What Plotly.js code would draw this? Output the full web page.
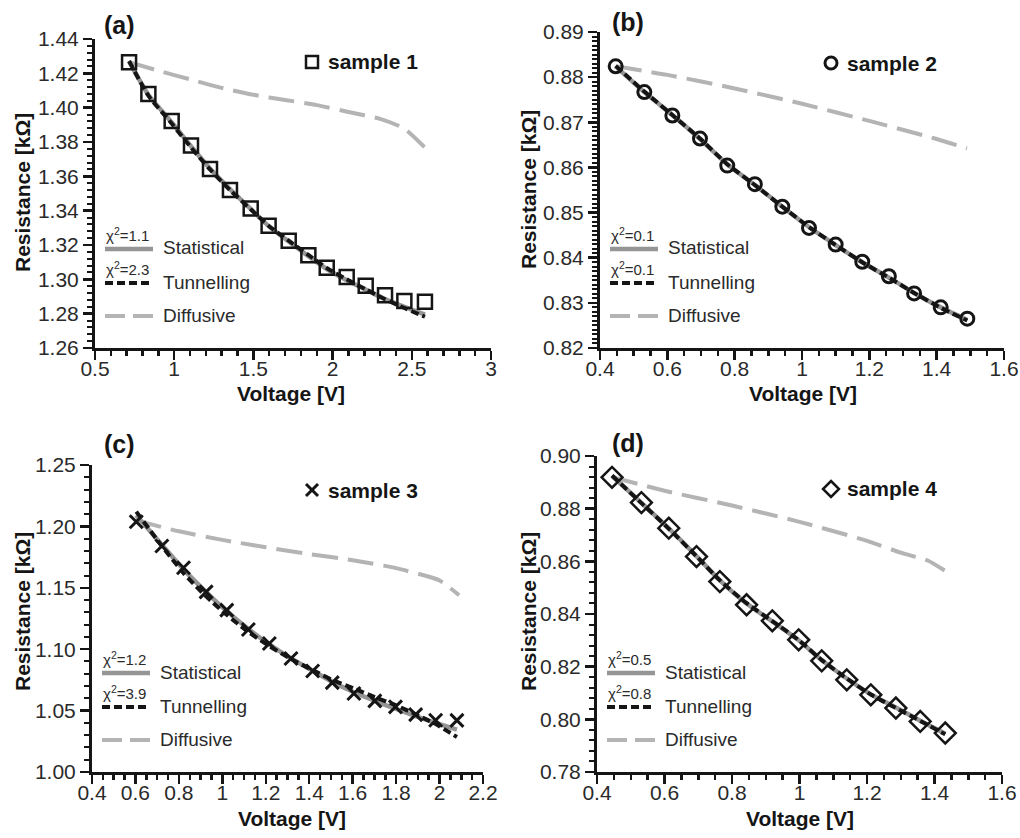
<!DOCTYPE html>
<html>
<head>
<meta charset="utf-8">
<script src="https://cdn.plot.ly/plotly-3.0.1.min.js"></script>
<style>html,body{margin:0;padding:0;background:#fff}#chart{width:1020px;height:838px}</style>
</head>
<body>
<div id="chart"></div>
<script>
// ---------- DATA ----------
// Panel (a) sample 1
const vA = [0.715,0.837,0.984,1.106,1.226,1.352,1.483,1.596,1.723,1.847,1.963,2.089,2.209,2.331,2.453,2.583];
const rA = [1.4264,1.4079,1.3923,1.3779,1.3643,1.3520,1.3413,1.3312,1.3225,1.3141,1.3067,1.3013,1.2962,1.2907,1.2874,1.2869];
const statA = [1.4270,1.4075,1.3915,1.3775,1.3645,1.3525,1.3410,1.3310,1.3220,1.3135,1.3060,1.2995,1.2940,1.2885,1.2840,1.2795];
const tunA  = [1.4272,1.4070,1.3908,1.3768,1.3640,1.3520,1.3408,1.3312,1.3225,1.3142,1.3066,1.3000,1.2942,1.2884,1.2833,1.2782];
const dvA = [0.715,0.9,1.1,1.3,1.5,1.7,1.9,2.1,2.3,2.45,2.58];
const drA = [1.4265,1.4215,1.4165,1.4115,1.4075,1.4045,1.4015,1.3975,1.3935,1.3880,1.3770];

// Panel (b) sample 2
const vB = [0.4465,0.5317,0.6149,0.697,0.778,0.860,0.9416,1.0208,1.100,1.179,1.258,1.333,1.412,1.491];
const rB = [0.8824,0.8767,0.8715,0.8664,0.8604,0.8563,0.8513,0.8466,0.8429,0.8391,0.8359,0.8321,0.8290,0.8265];
const statB = [0.8824,0.8767,0.8716,0.8663,0.8607,0.8561,0.8513,0.8468,0.8428,0.8390,0.8356,0.8322,0.8290,0.8262];
const tunB  = [0.8825,0.8768,0.8716,0.8664,0.8607,0.8561,0.8513,0.8468,0.8428,0.8390,0.8356,0.8322,0.8289,0.8261];
const dvB = [0.447,0.6,0.8,1.0,1.2,1.4,1.49];
const drB = [0.8824,0.8805,0.8775,0.8741,0.8703,0.8663,0.8642];

// Panel (c) sample 3
const vC = [0.6037,0.7217,0.8213,0.9254,1.0204,1.12,1.2165,1.316,1.4157,1.506,1.6056,1.702,1.797,1.890,1.982,2.080];
const rC = [1.2038,1.1840,1.1663,1.1467,1.1318,1.1160,1.1046,1.0924,1.0823,1.0728,1.0639,1.0579,1.0530,1.0467,1.0421,1.0420];
const statC = [1.2090,1.1850,1.1650,1.1465,1.1310,1.1165,1.1040,1.0925,1.0825,1.0735,1.0650,1.0580,1.0515,1.0455,1.0400,1.0345];
const tunC  = [1.2120,1.1840,1.1620,1.1430,1.1280,1.1140,1.1025,1.0920,1.0830,1.0750,1.0680,1.0610,1.0545,1.0470,1.0390,1.0285];
const dvC = [0.6,0.8,1.0,1.2,1.4,1.6,1.8,2.0,2.09];
const drC = [1.2050,1.1960,1.1890,1.1830,1.1775,1.1725,1.1660,1.1560,1.1440];

// Panel (d) sample 4
const vD = [0.4445,0.5316,0.6127,0.6948,0.764,0.8432,0.9194,0.9975,1.0658,1.140,1.2113,1.2855,1.3577,1.4319];
const rD = [0.8919,0.8823,0.8726,0.8618,0.8523,0.8435,0.8374,0.8302,0.8222,0.8150,0.8093,0.8043,0.7992,0.7948];
const statD = [0.8925,0.8822,0.8725,0.8620,0.8528,0.8440,0.8372,0.8300,0.8225,0.8155,0.8095,0.8045,0.7995,0.7945];
const tunD  = [0.8926,0.8821,0.8724,0.8619,0.8528,0.8441,0.8373,0.8301,0.8225,0.8155,0.8094,0.8043,0.7994,0.7943];
const dvD = [0.445,0.6,0.8,1.0,1.2,1.3,1.38,1.43];
const drD = [0.8920,0.8868,0.8812,0.8750,0.8678,0.8633,0.8603,0.8565];

const panelLetters = ['(a)','(b)','(c)','(d)'];
const sampleNames = ['sample 1','sample 2','sample 3','sample 4'];
const chiStat = ['1.1','0.1','1.2','0.5'];
const chiTun  = ['2.3','0.1','3.9','0.8'];
const fitNames = ['Statistical','Tunnelling','Diffusive'];
const xTitle = 'Voltage [V]';
const yTitle = 'Resistance [kΩ]';

// ---------- LAYOUT HELPERS ----------
const W = 1020, H = 838;
const px = x => x / W;
const py = y => 1 - y / H;

const FONT = 'Liberation Sans, Arial, Helvetica, sans-serif';
const INK = '#151515';
const STAT_COL = '#959595';
const DIFF_COL = '#b4b4b4';

// pixel boxes of each plotting area [left, right, top, bottom]
const boxes = [
  [95, 491, 39, 348],
  [600, 1004, 32, 348],
  [92, 483, 465, 772],
  [597, 1002, 456, 772]
];

const panels = [
  {v:vA, r:rA, st:statA, tu:tunA, dv:dvA, dr:drA, sym:'square-open', size:14, mlw:2.5,
   xr:[0.5,3], xd:0.5, xm:0.1, yr:[1.26,1.44], yd:0.02, ym:0.004,
   mark:[312,62], letter:[102,25], ytit:[22,193], xtit:[291,393]},
  {v:vB, r:rB, st:statB, tu:tunB, dv:dvB, dr:drB, sym:'circle-open', size:13, mlw:3,
   xr:[0.4,1.6], xd:0.2, xm:0.05, yr:[0.82,0.89], yd:0.01, ym:0.001,
   mark:[831,63], letter:[610,22], ytit:[529,190], xtit:[803,393]},
  {v:vC, r:rC, st:statC, tu:tunC, dv:dvC, dr:drC, sym:'x-thin-open', size:13, mlw:3,
   xr:[0.4,2.2], xd:0.2, xm:0.05, yr:[1.00,1.25], yd:0.05, ym:0.01,
   mark:[312,490], letter:[102,444], ytit:[22,612], xtit:[292,818]},
  {v:vD, r:rD, st:statD, tu:tunD, dv:dvD, dr:drD, sym:'diamond-open', size:16, mlw:2.5,
   xr:[0.4,1.6], xd:0.2, xm:0.05, yr:[0.78,0.90], yd:0.02, ym:0.004,
   mark:[831,489], letter:[610,443], ytit:[528,612], xtit:[800,818]}
];

const traces = [];
const layout = {
  width: W, height: H,
  margin: {l:0, r:0, t:0, b:0},
  paper_bgcolor: '#ffffff', plot_bgcolor: '#ffffff',
  showlegend: false,
  font: {family: FONT, color: INK},
  shapes: [], annotations: []
};

panels.forEach((p, i) => {
  const n = i === 0 ? '' : String(i + 1);
  const xa = 'x' + n, ya = 'y' + n;
  const b = boxes[i];
  const [L, R, T, B] = b;

  traces.push({x:p.dv, y:p.dr, xaxis:xa, yaxis:ya, mode:'lines', name:fitNames[2],
    line:{color:DIFF_COL, width:4, dash:'26px,10px', shape:'spline', smoothing:0.5}, hoverinfo:'skip'});
  traces.push({x:p.v, y:p.st, xaxis:xa, yaxis:ya, mode:'lines', name:fitNames[0],
    line:{color:STAT_COL, width:4.5, shape:'spline', smoothing:0.6}});
  traces.push({x:p.v, y:p.tu, xaxis:xa, yaxis:ya, mode:'lines', name:fitNames[1],
    line:{color:INK, width:4, dash:'8px,4px', shape:'spline', smoothing:0.6}});
  traces.push({x:p.v, y:p.r, xaxis:xa, yaxis:ya, mode:'markers', name:sampleNames[i],
    marker:{symbol:p.sym, size:p.size, color:INK, line:{color:INK, width:p.mlw}}});

  const common = {
    showline:true, linecolor:INK, linewidth:3, mirror:false,
    showgrid:false, zeroline:false,
    ticks:'outside', ticklen:9, tickwidth:2.5, tickcolor:INK,
    tickfont:{family:FONT, size:21, color:'#2a2a2a'},
    fixedrange:true
  };
  layout['xaxis' + n] = Object.assign({}, common, {
    domain:[px(L), px(R)], anchor:ya, range:p.xr, tickmode:'linear', tick0:p.xr[0], dtick:p.xd,
    ticklabelstandoff:-9,
    minor:{ticks:'outside', ticklen:5, tickwidth:2.5, tickcolor:INK, dtick:p.xm, tick0:p.xr[0], showgrid:false}
  });
  layout['yaxis' + n] = Object.assign({}, common, {
    domain:[py(B), py(T)], anchor:xa, range:p.yr, tickmode:'linear', tick0:p.yr[0], dtick:p.yd,
    tickformat:'.2f',
    minor:{ticks:'outside', ticklen:5, tickwidth:2, tickcolor:INK, dtick:p.ym, tick0:p.yr[0], showgrid:false}
  });

  // panel letter
  layout.annotations.push({xref:'paper', yref:'paper', x:px(p.letter[0]), y:py(p.letter[1]),
    xanchor:'left', yanchor:'middle', showarrow:false, text:'<b>' + panelLetters[i] + '</b>',
    font:{family:FONT, size:25, color:INK}});
  // axis titles
  layout.annotations.push({xref:'paper', yref:'paper', x:px(p.ytit[0]), y:py(p.ytit[1]),
    xanchor:'center', yanchor:'middle', textangle:-90, showarrow:false, text:'<b>' + yTitle + '</b>',
    font:{family:FONT, size:21, color:INK}});
  layout.annotations.push({xref:'paper', yref:'paper', x:px(p.xtit[0]), y:py(p.xtit[1]),
    xanchor:'center', yanchor:'middle', showarrow:false, text:'<b>' + xTitle + '</b>',
    font:{family:FONT, size:21, color:INK}});

  // sample key
  const [mx, my] = p.mark;
  const s = 6;
  if (i === 0) {
    layout.shapes.push({type:'rect', xref:'paper', yref:'paper', x0:px(mx-s), x1:px(mx+s), y0:py(my+s), y1:py(my-s),
      line:{color:INK, width:2.5}});
  } else if (i === 1) {
    layout.shapes.push({type:'circle', xref:'paper', yref:'paper', x0:px(mx-s), x1:px(mx+s), y0:py(my+s), y1:py(my-s),
      line:{color:INK, width:3}});
  } else if (i === 2) {
    layout.shapes.push({type:'line', xref:'paper', yref:'paper', x0:px(mx-s), x1:px(mx+s), y0:py(my-s), y1:py(my+s), line:{color:INK, width:3}});
    layout.shapes.push({type:'line', xref:'paper', yref:'paper', x0:px(mx-s), x1:px(mx+s), y0:py(my+s), y1:py(my-s), line:{color:INK, width:3}});
  } else {
    const d = 8;
    layout.shapes.push({type:'path', xref:'paper', yref:'paper',
      path:`M ${px(mx)},${py(my-d)} L ${px(mx+d)},${py(my)} L ${px(mx)},${py(my+d)} L ${px(mx-d)},${py(my)} Z`,
      line:{color:INK, width:2.5}});
  }
  layout.annotations.push({xref:'paper', yref:'paper', x:px(mx + 14), y:py(my),
    xanchor:'left', yanchor:'middle', showarrow:false, text:'<b>' + sampleNames[i] + '</b>',
    font:{family:FONT, size:21, color:INK}});

  // fit key
  const lx0 = L + 10, lx1 = L + 58, tx = L + 66;
  const ys = [B - 99, B - 65, B - 32];
  const styles = [
    {color:STAT_COL, width:4.5, dash:'solid'},
    {color:INK, width:4, dash:'8px,4px'},
    {color:DIFF_COL, width:4, dash:'20px,8px'}
  ];
  ys.forEach((yy, k) => {
    layout.shapes.push({type:'line', xref:'paper', yref:'paper', x0:px(lx0), x1:px(lx1), y0:py(yy), y1:py(yy),
      line:styles[k]});
    layout.annotations.push({xref:'paper', yref:'paper', x:px(tx), y:py(yy - 1),
      xanchor:'left', yanchor:'middle', showarrow:false, text:fitNames[k],
      font:{family:FONT, size:19, color:'#2a2a2a'}});
  });
  [chiStat[i], chiTun[i]].forEach((c, k) => {
    layout.annotations.push({xref:'paper', yref:'paper', x:px(lx0 - 1), y:py(ys[k] - 3),
      xanchor:'left', yanchor:'bottom', showarrow:false, text:'χ<sup>2</sup>=' + c,
      font:{family:FONT, size:15, color:'#2a2a2a'}});
  });
});

Plotly.newPlot('chart', traces, layout, {staticPlot:true, displayModeBar:false});
</script>
</body>
</html>
